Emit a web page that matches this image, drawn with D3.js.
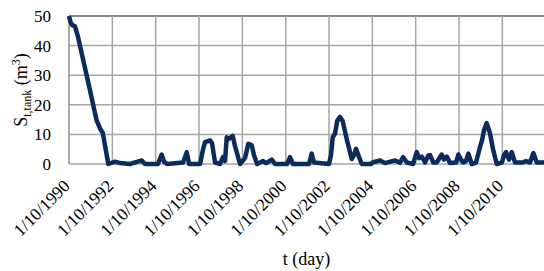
<!DOCTYPE html>
<html>
<head>
<meta charset="utf-8">
<script src="https://cdn.jsdelivr.net/npm/d3@7"></script>
<style>
  body { margin: 0; background: #fff; }
</style>
</head>
<body>
<svg id="chart" width="544" height="271"></svg>
<script>
// storage in the tank
const dates = ["1990-10-01","1990-10-26","1990-11-20","1991-01-10","1991-03-01","1991-08-01","1992-01-10","1992-03-07","1992-04-22","1992-07-25",
  "1992-11-15","1993-02-08","1993-07-25","1994-02-08","1994-04-04","1994-11-09","1995-01-10","1995-02-18","1995-04-10","1996-01-05",
  "1996-03-08","1996-04-16","1996-10-18","1996-12-08","1997-01-10","1997-04-04","1997-05-08","1997-06-28","1997-09-20","1997-11-09",
  "1997-12-13","1998-01-11","1998-02-19","1998-04-22","1998-05-31","1998-08-23","1998-11-15","1999-01-10","1999-03-08","1999-04-16",
  "1999-06-06","1999-09-15","1999-11-04","2000-02-08","2000-04-04","2000-10-24","2000-12-13","2001-02-01","2001-10-29","2001-12-13",
  "2002-01-21","2002-10-01","2002-11-04","2002-12-02","2003-01-10","2003-02-18","2003-04-04","2003-05-19","2003-07-31","2003-10-19",
  "2003-11-27","2003-12-31","2004-02-07","2004-04-05","2004-09-08","2004-10-12","2005-02-08","2005-05-03","2005-10-18","2006-01-10",
  "2006-03-01","2006-05-08","2006-08-17","2006-10-19","2006-11-27","2007-01-11","2007-03-08","2007-05-02","2007-05-31","2007-07-25",
  "2007-09-20","2007-12-13","2008-01-22","2008-03-08","2008-05-03","2008-08-11","2008-09-19","2008-11-03","2008-12-12","2009-01-27",
  "2009-03-07","2009-05-03","2009-07-14","2009-09-19","2009-10-23","2009-11-26","2010-01-10","2010-03-07","2010-04-27","2010-06-28",
  "2010-09-25","2010-10-29","2010-12-02","2011-01-22","2011-03-08","2011-05-03","2011-09-09","2011-11-03","2012-01-10","2012-03-07",
  "2012-05-03","2012-09-02"];
const storage = [50,48,47,46.5,43,29.4,14.7,12,10.5,0,
  0.8,0.3,0,1.2,0,0,3.2,0.8,0,0.5,
  4,0,0,5,7.4,8,7,0.5,0,2.3,
  1,9,8.5,9.5,6,0,2,6.8,6.3,3,
  0,1,0.3,1.5,0,0,2.3,0,0,3.5,
  0.5,0,3,9,10.3,14.7,15.9,14.5,8,1.7,
  3,5.1,3,0,0,0.6,1.2,0.3,1.2,0.4,
  2.3,0.5,0,4,2,2.5,0.5,2.9,3,0.5,
  0.5,3.2,1.5,2.5,0.3,0.5,3.2,1.5,0.5,1,
  3.5,0,0.5,5.7,8,11.4,13.8,10.3,5,0,
  0.5,3,4,1.5,4,0.5,0.5,1,0.5,3.7,
  0.5,0.5];

const xTickDates = ["1990-10-01","1992-10-01","1994-10-01","1996-10-01","1998-10-01","2000-10-01",
  "2002-10-01","2004-10-01","2006-10-01","2008-10-01","2010-10-01"];
const xTickLabels = ["1/10/1990","1/10/1992","1/10/1994","1/10/1996","1/10/1998","1/10/2000",
  "1/10/2002","1/10/2004","1/10/2006","1/10/2008","1/10/2010"];
const yTicks = [0, 10, 20, 30, 40, 50];
const xDomain = ["1990-10-01", "2012-09-02"];

const FONT = "'Liberation Serif', 'Times New Roman', serif";
const parse = d3.timeParse("%Y-%m-%d");
const series = dates.map((d, i) => ({ t: parse(d), v: storage[i] }));

const svg = d3.select("#chart");
const plotLeft = 69, plotRight = 544, plotTop = 16, plotBottom = 164;

const x = d3.scaleTime().domain(xDomain.map(parse)).range([plotLeft, plotRight]);
const y = d3.scaleLinear().domain([0, 50]).range([plotBottom, plotTop]);

// grid
svg.append("g").selectAll("line").data(yTicks).join("line")
  .attr("x1", plotLeft).attr("x2", plotRight)
  .attr("y1", d => y(d)).attr("y2", d => y(d))
  .style("stroke", d => d == 50 ? "#8c8c8c" : "#a6a6a6")
  .style("stroke-width", d => d == 50 ? 2 : 1.5);

svg.append("g").selectAll("line").data(xTickDates).join("line")
  .attr("x1", d => x(parse(d))).attr("x2", d => x(parse(d)))
  .attr("y1", plotTop).attr("y2", plotBottom)
  .style("stroke", (d, i) => i == 0 ? "#8c8c8c" : "#a6a6a6")
  .style("stroke-width", 1.5);

// y tick labels
svg.append("g").selectAll("text").data(yTicks).join("text")
  .attr("x", 51).attr("y", d => y(d))
  .attr("dy", "0.35em")
  .attr("text-anchor", "end")
  .style("font-family", FONT)
  .style("font-size", "17px")
  .text(d => d);

// x tick labels
svg.append("g").selectAll("text").data(xTickDates).join("text")
  .attr("text-anchor", "end")
  .attr("transform", d => "translate(" + (x(parse(d)) + 2) + ",187)rotate(-45)")
  .style("font-family", FONT)
  .style("font-size", "17.5px")
  .text((d, i) => xTickLabels[i]);

// line
const line = d3.line()
  .x(d => x(d.t))
  .y(d => y(d.v));

svg.append("path")
  .datum(series)
  .attr("d", line)
  .style("fill", "none")
  .style("stroke", "#0b2a5e")
  .style("stroke-width", 4.5)
  .style("stroke-linejoin", "round");

// axis titles
const yl = svg.append("text")
  .attr("text-anchor", "middle")
  .attr("transform", "translate(27," + ((plotTop + plotBottom) / 2) + ")rotate(-90)")
  .style("font-family", FONT)
  .style("font-size", "18px");
yl.append("tspan").text("S");
yl.append("tspan").attr("dy", 4).style("font-size", "12px").text("t,tank");
yl.append("tspan").attr("dy", -4).text(" (m");
yl.append("tspan").attr("dy", -7).style("font-size", "12px").text("3");
yl.append("tspan").attr("dy", 7).text(")");

svg.append("text")
  .attr("x", (plotLeft + plotRight) / 2)
  .attr("y", 265)
  .attr("text-anchor", "middle")
  .style("font-family", FONT)
  .style("font-size", "18px")
  .text("t (day)");
</script>
</body>
</html>
